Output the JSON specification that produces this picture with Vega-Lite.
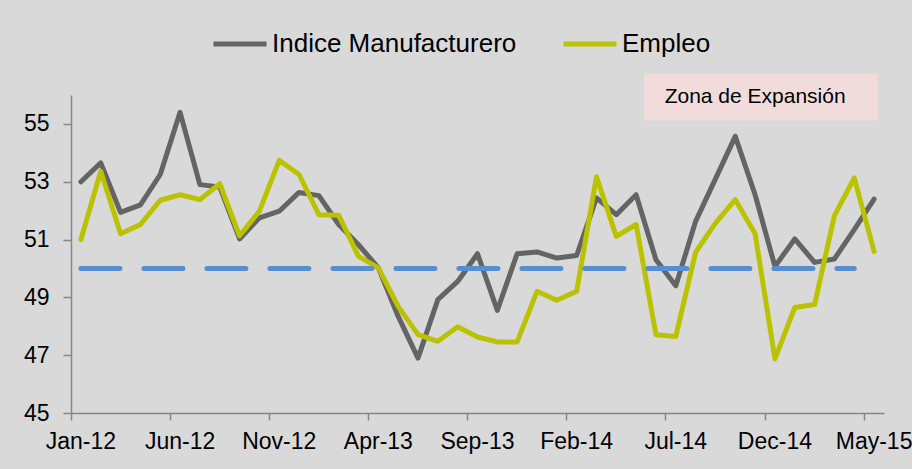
{
  "$schema": "https://vega.github.io/schema/vega-lite/v6.json",
  "width": 813,
  "height": 318,
  "autosize": {"type": "none"},
  "padding": {"left": 71, "top": 95, "right": 28, "bottom": 56},
  "background": "#d9d9d9",
  "config": {"view": {"stroke": null}, "font": "Liberation Sans"},
  "data": {"values": [
    {"mes": "Jan-12", "indice": 53.0, "empleo": 51.0, "umbral": 50},
    {"mes": "Feb-12", "indice": 53.65, "empleo": 53.36, "umbral": 50},
    {"mes": "Mar-12", "indice": 51.94, "empleo": 51.2, "umbral": 50},
    {"mes": "Apr-12", "indice": 52.2, "empleo": 51.52, "umbral": 50},
    {"mes": "May-12", "indice": 53.25, "empleo": 52.36, "umbral": 50},
    {"mes": "Jun-12", "indice": 55.4, "empleo": 52.55, "umbral": 50},
    {"mes": "Jul-12", "indice": 52.9, "empleo": 52.38, "umbral": 50},
    {"mes": "Aug-12", "indice": 52.82, "empleo": 52.93, "umbral": 50},
    {"mes": "Sep-12", "indice": 51.02, "empleo": 51.13, "umbral": 50},
    {"mes": "Oct-12", "indice": 51.75, "empleo": 51.98, "umbral": 50},
    {"mes": "Nov-12", "indice": 51.98, "empleo": 53.74, "umbral": 50},
    {"mes": "Dec-12", "indice": 52.63, "empleo": 53.25, "umbral": 50},
    {"mes": "Jan-13", "indice": 52.52, "empleo": 51.86, "umbral": 50},
    {"mes": "Feb-13", "indice": 51.52, "empleo": 51.84, "umbral": 50},
    {"mes": "Mar-13", "indice": 50.82, "empleo": 50.42, "umbral": 50},
    {"mes": "Apr-13", "indice": 50.02, "empleo": 50.02, "umbral": 50},
    {"mes": "May-13", "indice": 48.34, "empleo": 48.69, "umbral": 50},
    {"mes": "Jun-13", "indice": 46.9, "empleo": 47.71, "umbral": 50},
    {"mes": "Jul-13", "indice": 48.92, "empleo": 47.48, "umbral": 50},
    {"mes": "Aug-13", "indice": 49.55, "empleo": 47.98, "umbral": 50},
    {"mes": "Sep-13", "indice": 50.51, "empleo": 47.63, "umbral": 50},
    {"mes": "Oct-13", "indice": 48.55, "empleo": 47.46, "umbral": 50},
    {"mes": "Nov-13", "indice": 50.51, "empleo": 47.46, "umbral": 50},
    {"mes": "Dec-13", "indice": 50.57, "empleo": 49.21, "umbral": 50},
    {"mes": "Jan-14", "indice": 50.36, "empleo": 48.9, "umbral": 50},
    {"mes": "Feb-14", "indice": 50.45, "empleo": 49.21, "umbral": 50},
    {"mes": "Mar-14", "indice": 52.44, "empleo": 53.17, "umbral": 50},
    {"mes": "Apr-14", "indice": 51.86, "empleo": 51.11, "umbral": 50},
    {"mes": "May-14", "indice": 52.55, "empleo": 51.52, "umbral": 50},
    {"mes": "Jun-14", "indice": 50.3, "empleo": 47.71, "umbral": 50},
    {"mes": "Jul-14", "indice": 49.4, "empleo": 47.65, "umbral": 50},
    {"mes": "Aug-14", "indice": 51.63, "empleo": 50.56, "umbral": 50},
    {"mes": "Sep-14", "indice": 53.1, "empleo": 51.57, "umbral": 50},
    {"mes": "Oct-14", "indice": 54.57, "empleo": 52.38, "umbral": 50},
    {"mes": "Nov-14", "indice": 52.55, "empleo": 51.2, "umbral": 50},
    {"mes": "Dec-14", "indice": 50.07, "empleo": 46.87, "umbral": 50},
    {"mes": "Jan-15", "indice": 51.02, "empleo": 48.65, "umbral": 50},
    {"mes": "Feb-15", "indice": 50.21, "empleo": 48.75, "umbral": 50},
    {"mes": "Mar-15", "indice": 50.33, "empleo": 51.83, "umbral": 50},
    {"mes": "Apr-15", "indice": 51.34, "empleo": 53.13, "umbral": 50},
    {"mes": "May-15", "indice": 52.4, "empleo": 50.59}
  ]},
  "layer": [
    {
      "transform": [{"fold": ["indice", "empleo"], "as": ["serie", "valor"]}],
      "mark": {"type": "line", "strokeWidth": 5, "strokeJoin": "round", "strokeCap": "round"},
      "encoding": {
        "x": {
          "field": "mes", "type": "ordinal", "sort": null, "bandPosition": 0.5,
          "scale": {"type": "band", "paddingInner": 0, "paddingOuter": 0,
            "domain": ["Jan-12","Feb-12","Mar-12","Apr-12","May-12","Jun-12","Jul-12","Aug-12","Sep-12","Oct-12","Nov-12","Dec-12","Jan-13","Feb-13","Mar-13","Apr-13","May-13","Jun-13","Jul-13","Aug-13","Sep-13","Oct-13","Nov-13","Dec-13","Jan-14","Feb-14","Mar-14","Apr-14","May-14","Jun-14","Jul-14","Aug-14","Sep-14","Oct-14","Nov-14","Dec-14","Jan-15","Feb-15","Mar-15","Apr-15","May-15"]},
          "axis": {
            "title": null,
            "values": ["Jan-12","Jun-12","Nov-12","Apr-13","Sep-13","Feb-14","Jul-14","Dec-14","May-15"],
            "bandPosition": 0, "tickExtra": false,
            "domainColor": "#868686", "domainWidth": 1.5,
            "tickColor": "#868686", "tickWidth": 1.5, "tickSize": 7,
            "labelFontSize": 23, "labelColor": "#000000", "labelPadding": 10,
            "labelAngle": 0, "grid": false, "labelOverlap": false, "labelFlush": false
          }
        },
        "y": {
          "field": "valor", "type": "quantitative",
          "scale": {"domain": [45, 56], "nice": false, "zero": false},
          "axis": {
            "title": null, "values": [45, 47, 49, 51, 53, 55],
            "domainColor": "#868686", "domainWidth": 1.5,
            "tickColor": "#868686", "tickWidth": 1.5, "tickSize": 8,
            "labelFontSize": 23, "labelColor": "#000000", "labelPadding": 14, "grid": false
          }
        },
        "color": {
          "field": "serie", "type": "nominal",
          "scale": {"domain": ["indice", "empleo"], "range": ["#646464", "#BBC300"]},
          "legend": {
            "title": null, "orient": "none", "legendX": 140, "legendY": -80,
            "direction": "horizontal", "symbolType": "stroke", "symbolSize": 2809,
            "symbolStrokeWidth": 5, "labelFontSize": 26, "labelColor": "#000000",
            "labelOffset": 3, "columnPadding": 36, "padding": 0, "labelLimit": 400,
            "labelExpr": "datum.value == 'indice' ? 'Indice Manufacturero' : 'Empleo'"
          }
        }
      }
    },
    {
      "mark": {"type": "line", "color": "#558ED5", "strokeWidth": 5, "strokeDash": [39, 24], "strokeCap": "round"},
      "encoding": {
        "x": {"field": "mes", "type": "ordinal", "sort": null, "bandPosition": 0.5},
        "y": {"field": "umbral", "type": "quantitative"}
      }
    },
    {
      "data": {"values": [{"etiqueta": "Zona de Expansión"}]},
      "layer": [
        {
          "mark": {"type": "rect", "color": "#F2DCDB", "xOffset": -12, "x2Offset": 4},
          "encoding": {
            "x": {"datum": "Jun-14", "type": "ordinal"},
            "x2": {"datum": "May-15"},
            "y": {"datum": 56.74, "type": "quantitative"},
            "y2": {"datum": 55.12}
          }
        },
        {
          "mark": {"type": "text", "fontSize": 21, "color": "#000000", "baseline": "middle", "align": "center"},
          "encoding": {
            "x": {"datum": "Nov-14", "type": "ordinal", "bandPosition": 0.5},
            "y": {"datum": 55.93, "type": "quantitative"},
            "text": {"field": "etiqueta"}
          }
        }
      ]
    }
  ]
}
